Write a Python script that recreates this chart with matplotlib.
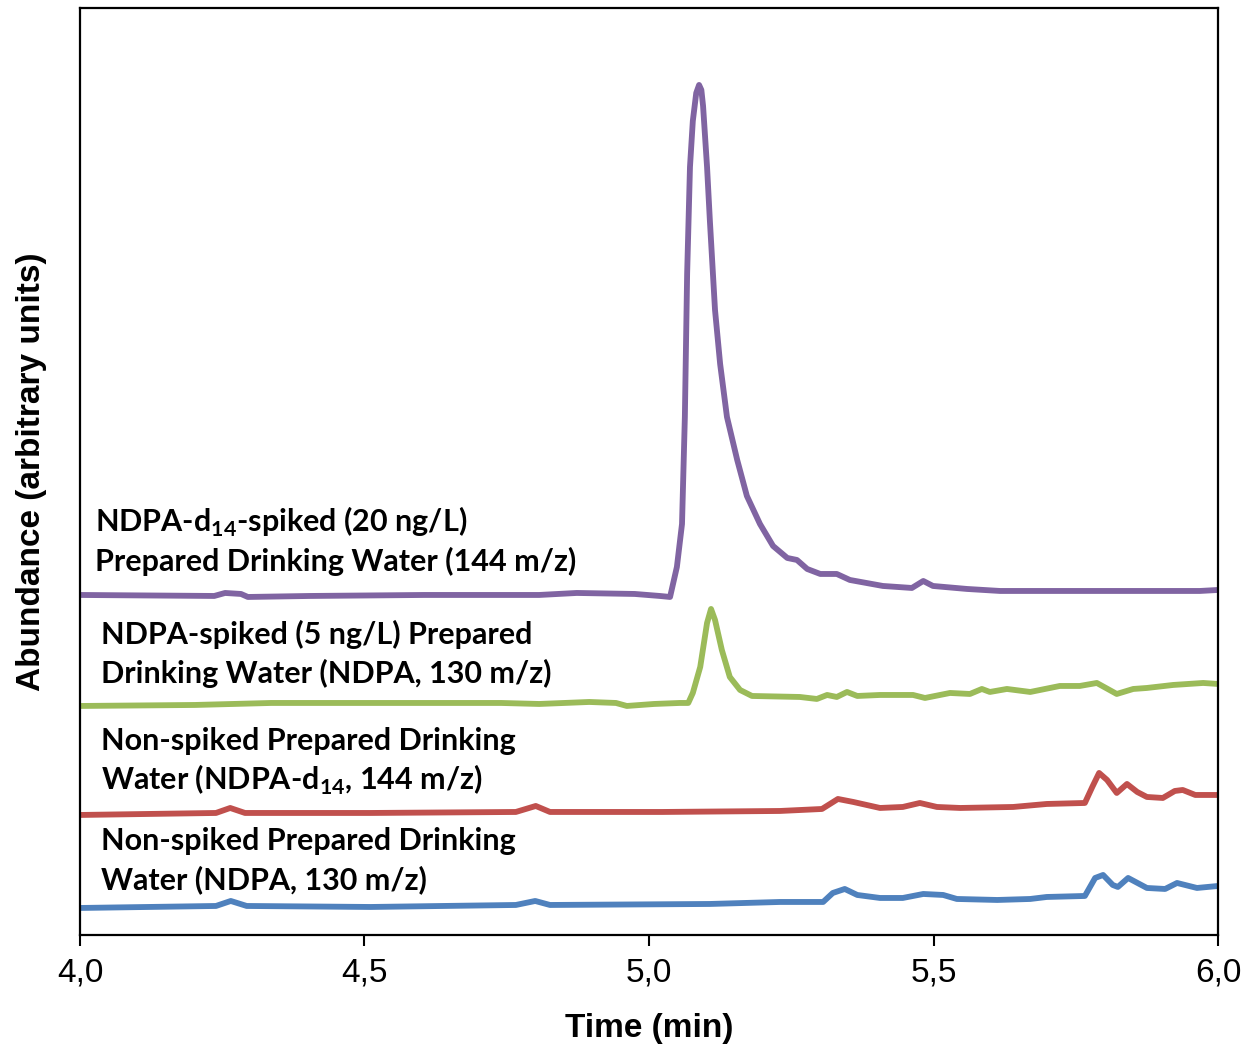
import matplotlib
import numpy as np
import matplotlib.pyplot as plt
matplotlib.use('Agg')

plt.rcParams['mathtext.fontset'] = 'custom'
plt.rcParams['mathtext.rm'] = 'Lato'
plt.rcParams['mathtext.bf'] = 'Lato:bold'

# time (min) and abundance (arbitrary units, traces already offset)
t_d14 = [4.000, 4.236, 4.255, 4.283, 4.295, 4.404, 4.605, 4.807, 4.873, 4.975, 5.019, 5.037,
         5.049, 5.058, 5.063, 5.067, 5.072, 5.077, 5.083, 5.088, 5.092, 5.095, 5.102, 5.107,
         5.116, 5.125, 5.137, 5.155, 5.172, 5.195, 5.218, 5.243, 5.260, 5.278, 5.301, 5.330,
         5.353, 5.411, 5.462, 5.482, 5.499, 5.559, 5.617, 5.793, 5.968, 6.000]
y_d14 = [340, 339, 342, 341, 338, 339, 340, 340, 342, 341, 339, 338,
         368, 411, 518, 661, 768, 814, 842, 850, 845, 829, 768, 714,
         625, 571, 518, 475, 439, 411, 389, 377, 375, 366, 361, 361,
         355, 349, 347, 354, 349, 346, 344, 344, 344, 345]

t_spk = [4.000, 4.202, 4.336, 4.538, 4.740, 4.807, 4.895, 4.942, 4.961, 5.009, 5.054, 5.069,
         5.077, 5.090, 5.102, 5.109, 5.116, 5.128, 5.142, 5.160, 5.181, 5.265, 5.295, 5.313,
         5.330, 5.348, 5.366, 5.406, 5.464, 5.485, 5.529, 5.564, 5.585, 5.599, 5.629, 5.670,
         5.722, 5.757, 5.787, 5.822, 5.851, 5.875, 5.921, 5.974, 6.000]
y_spk = [229, 230, 232, 232, 232, 231, 233, 232, 229, 231, 232, 232,
         242, 268, 312, 326, 315, 285, 258, 245, 239, 238, 236, 240,
         238, 243, 239, 240, 240, 237, 242, 241, 246, 243, 246, 243,
         249, 249, 252, 241, 246, 247, 250, 252, 251]

t_red = [4.000, 4.239, 4.264, 4.290, 4.511, 4.766, 4.801, 4.826, 5.023, 5.230, 5.304, 5.332,
         5.359, 5.406, 5.446, 5.476, 5.506, 5.547, 5.640, 5.699, 5.766, 5.779, 5.791, 5.805,
         5.822, 5.840, 5.858, 5.875, 5.903, 5.924, 5.938, 5.960, 6.000]
y_red = [120, 122, 127, 122, 122, 123, 129, 123, 123, 124, 126, 136,
         133, 127, 128, 132, 128, 127, 128, 131, 132, 148, 162, 155,
         142, 151, 143, 138, 137, 144, 145, 140, 140]

t_blue = [4.000, 4.239, 4.265, 4.293, 4.511, 4.766, 4.800, 4.826, 5.107, 5.230, 5.306, 5.323,
          5.344, 5.366, 5.406, 5.446, 5.482, 5.517, 5.541, 5.612, 5.670, 5.699, 5.766, 5.784,
          5.798, 5.815, 5.824, 5.842, 5.875, 5.907, 5.928, 5.963, 6.000]
y_blue = [27, 29, 34, 29, 28, 30, 34, 30, 31, 33, 33, 42,
          46, 40, 37, 37, 41, 40, 36, 35, 36, 38, 39, 57,
          60, 50, 48, 57, 47, 46, 52, 47, 49]

labels = [
    ["NDPA-d$_{\\mathbf{14}}$-spiked (20 ng/L)", "Prepared Drinking Water (144 m/z)"],
    ["NDPA-spiked (5 ng/L) Prepared", "Drinking Water (NDPA, 130 m/z)"],
    ["Non-spiked Prepared Drinking", "Water (NDPA-d$_{\\mathbf{14}}$, 144 m/z)"],
    ["Non-spiked Prepared Drinking", "Water (NDPA, 130 m/z)"],
]
xticks = [4.0, 4.5, 5.0, 5.5, 6.0]
xtick_labels = ["4,0", "4,5", "5,0", "5,5", "6,0"]


def main():
    fig = plt.figure(figsize=(12.42, 10.47), dpi=100)
    ax = fig.add_axes([0.0644, 0.107, 0.9163, 0.8854])

    lw = 4.2
    ax.plot(t_blue, y_blue, color='#4F81BD', lw=lw, solid_joinstyle='round', solid_capstyle='round')
    ax.plot(t_red, y_red, color='#C0504D', lw=lw, solid_joinstyle='round', solid_capstyle='round')
    ax.plot(t_spk, y_spk, color='#9BBB59', lw=lw, solid_joinstyle='round', solid_capstyle='round')
    ax.plot(t_d14, y_d14, color='#8064A2', lw=lw, solid_joinstyle='round', solid_capstyle='round')

    ax.set_xlim(4.0, 6.0)
    ax.set_ylim(0, 927)
    ax.set_xticks(xticks)
    ax.set_xticklabels(xtick_labels, fontsize=24, family='Liberation Sans')
    ax.set_yticks([])
    ax.tick_params(axis='x', direction='out', length=8, width=1.5, pad=8)
    for s in ax.spines.values():
        s.set_linewidth(1.6)

    ax.set_xlabel("Time (min)", fontsize=24, fontweight='bold', family='Liberation Sans', labelpad=18)
    ax.set_ylabel("Abundance (arbitrary units)", fontsize=24, fontweight='bold',
                  family='Liberation Sans', labelpad=24)

    # label positions (x in min, first-line y)
    text_x = [4.026, 4.037, 4.037, 4.037]
    text_y = [413, 301, 194, 94]
    for (l1, l2), tx, ty in zip(labels, text_x, text_y):
        ax.text(tx, ty, l1, fontsize=22, fontweight='bold', family='Lato', va='center')
        ax.text(tx, ty - 39, l2, fontsize=22, fontweight='bold', family='Lato', va='center')

    fig.savefig('out.png', dpi=100)


main()
